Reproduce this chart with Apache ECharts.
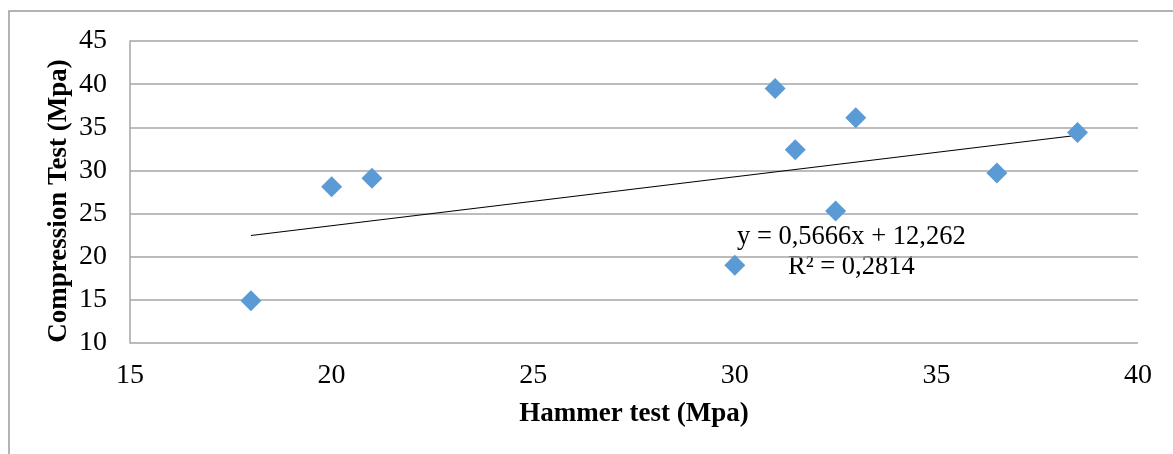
<!DOCTYPE html>
<html>
<head>
<meta charset="utf-8">
<script src="https://cdn.jsdelivr.net/npm/echarts@6/dist/echarts.min.js"></script>
<style>
  html, body { margin: 0; padding: 0; background: #fff; }
  #chart { width: 1173px; height: 454px; }
</style>
</head>
<body>
<div id="chart"></div>
<script>
// Hammer test vs compression test (Mpa)
const hammer = [18, 20, 21, 30, 31, 31.5, 32.5, 33, 36.5, 38.5];
const compression = [14.9, 28.1, 29.1, 19.0, 39.5, 32.4, 25.3, 36.1, 29.7, 34.4];
// linear trend line end points (x, y)
const trendX = [18, 38.5];
const trendY = [22.46, 34.08];
const trendLabel = ['y = 0,5666x + 12,262', 'R² = 0,2814'];

const xTicks = [15, 20, 25, 30, 35, 40];
const yTicks = [10, 15, 20, 25, 30, 35, 40, 45];
const xTitle = 'Hammer test (Mpa)';
const yTitle = 'Compression Test (Mpa)';

const font = '"Liberation Serif", "Times New Roman", serif';

const chart = echarts.init(document.getElementById('chart'));

chart.setOption({
  animation: false,
  backgroundColor: '#fff',
  grid: { left: 130, top: 41, right: 35, bottom: 111 },
  xAxis: {
    type: 'value',
    min: xTicks[0],
    max: xTicks[xTicks.length - 1],
    interval: 5,
    axisLine: { show: false },
    axisTick: { show: false },
    axisLabel: { fontFamily: font, fontSize: 28, color: '#000', margin: 19 },
    splitLine: { show: false }
  },
  yAxis: {
    type: 'value',
    min: yTicks[0],
    max: yTicks[yTicks.length - 1],
    interval: 5,
    axisLine: { show: true, lineStyle: { color: '#a6a6a6', width: 1.5 } },
    axisTick: { show: false },
    axisLabel: { fontFamily: font, fontSize: 28, color: '#000', margin: 23 },
    splitLine: { show: true, lineStyle: { color: '#a6a6a6', width: 1.5 } }
  },
  graphic: [
    {
      type: 'rect',
      shape: { x: 9, y: 11, width: 1200, height: 500 },
      style: { fill: 'none', stroke: '#9a9a9a', lineWidth: 1.5 },
      silent: true
    },
    {
      type: 'text',
      x: 634,
      y: 414,
      style: {
        text: xTitle, fontFamily: font, fontWeight: 'bold', fontSize: 27, fill: '#000',
        align: 'center', verticalAlign: 'middle'
      }
    },
    {
      type: 'text',
      x: 59,
      y: 201,
      rotation: Math.PI / 2,
      style: {
        text: yTitle, fontFamily: font, fontWeight: 'bold', fontSize: 27, fill: '#000',
        align: 'center', verticalAlign: 'middle'
      }
    },
    {
      type: 'text',
      x: 737,
      y: 237,
      style: { text: trendLabel[0], fontFamily: font, fontSize: 26.5, fill: '#000', verticalAlign: 'middle' }
    },
    {
      type: 'text',
      x: 788,
      y: 267,
      style: { text: trendLabel[1], fontFamily: font, fontSize: 26.5, fill: '#000', verticalAlign: 'middle' }
    }
  ],
  series: [
    {
      name: 'Trend',
      type: 'line',
      data: trendX.map((x, i) => [x, trendY[i]]),
      symbol: 'none',
      lineStyle: { color: '#000', width: 1.2 },
      z: 3
    },
    {
      name: 'Data',
      type: 'scatter',
      data: hammer.map((x, i) => [x, compression[i]]),
      symbol: 'diamond',
      symbolSize: [21, 21],
      itemStyle: { color: '#5b9bd5', opacity: 1 },
      z: 4
    }
  ]
});
</script>
</body>
</html>
